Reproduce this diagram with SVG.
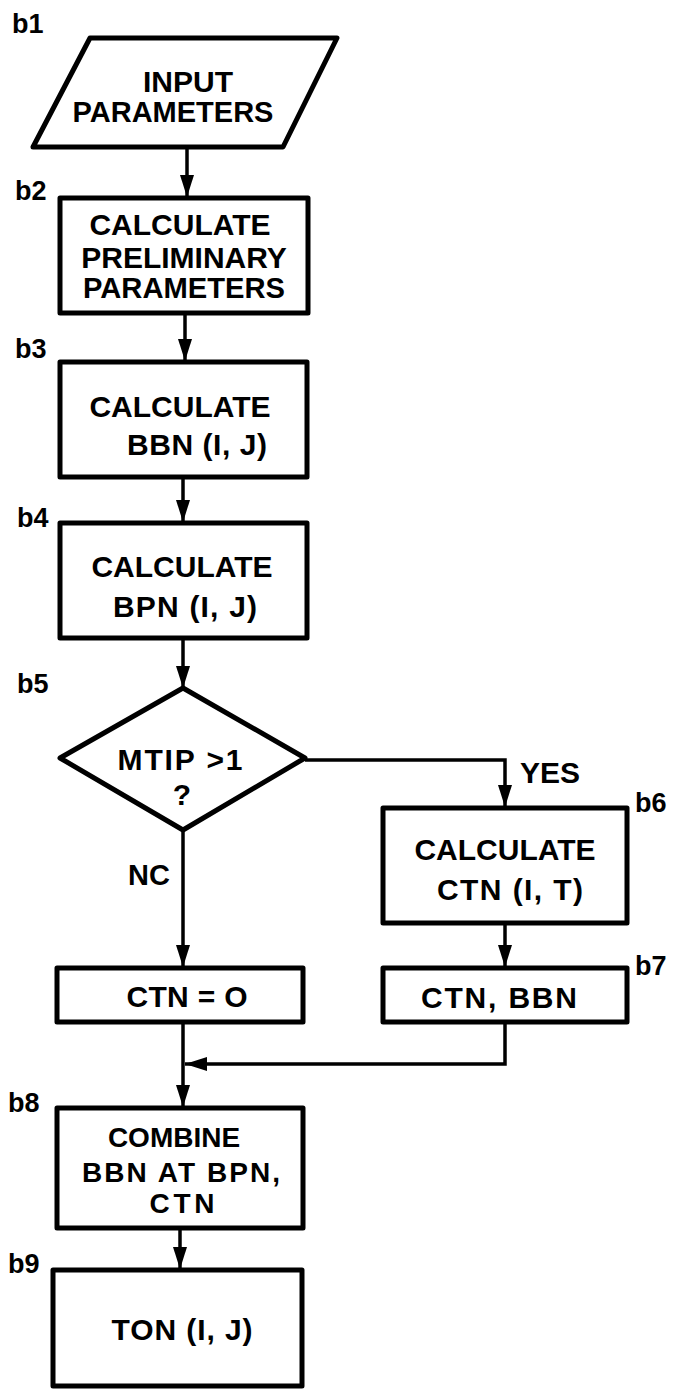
<svg xmlns="http://www.w3.org/2000/svg" width="677" height="1389" viewBox="0 0 677 1389">
<style>
.shape{fill:#fff;stroke:#000;stroke-width:5;stroke-linejoin:round}
.t{font-family:"Liberation Sans",Arial,sans-serif;font-weight:bold;font-size:30px;fill:#000;text-anchor:middle}
.s{font-size:28px}
.lbl{font-family:"Liberation Sans",Arial,sans-serif;font-weight:bold;font-size:27px;fill:#000}
.c{fill:none;stroke:#000;stroke-width:3.5}
</style>
<defs>
<marker id="ah" markerUnits="userSpaceOnUse" markerWidth="24" markerHeight="16" refX="22" refY="7" orient="auto">
<path d="M0,0 L22,7 L0,14 Z" fill="#000"/>
</marker>
</defs>
<rect width="677" height="1389" fill="#fff"/>
<g id="connectors">
<line class="c" x1="187" y1="147" x2="187" y2="197" marker-end="url(#ah)"/>
<line class="c" x1="185" y1="313" x2="185" y2="361" marker-end="url(#ah)"/>
<line class="c" x1="183" y1="477" x2="183" y2="522" marker-end="url(#ah)"/>
<line class="c" x1="183" y1="638" x2="183" y2="688" marker-end="url(#ah)"/>
<path class="c" d="M305,760 H505 V807" marker-end="url(#ah)"/>
<line class="c" x1="183" y1="830" x2="183" y2="967" marker-end="url(#ah)"/>
<line class="c" x1="505" y1="923" x2="505" y2="967" marker-end="url(#ah)"/>
<path class="c" d="M505,1022 V1064 H185" marker-end="url(#ah)"/>
<line class="c" x1="183" y1="1022" x2="183" y2="1107" marker-end="url(#ah)"/>
<line class="c" x1="180" y1="1228" x2="180" y2="1269" marker-end="url(#ah)"/>
<text class="t" x="149" y="885" style="font-size:29px">NC</text>
<text class="t" x="520" y="783" style="text-anchor:start">YES</text>
</g>
<g id="b1">
<polygon class="shape" points="90,38 337,38 283,147 33,147"/>
<text class="t" x="188" y="92">INPUT</text>
<text class="t" x="173" y="122" style="font-size:29px">PARAMETERS</text>
<text class="lbl" x="12" y="33">b1</text>
</g>
<g id="b2">
<rect class="shape" x="60" y="198" width="248" height="115"/>
<text class="t" x="180" y="235">CALCULATE</text>
<text class="t" x="184" y="268">PRELIMINARY</text>
<text class="t" x="184" y="298" textLength="202" lengthAdjust="spacingAndGlyphs">PARAMETERS</text>
<text class="lbl" x="15" y="200">b2</text>
</g>
<g id="b3">
<rect class="shape" x="60" y="362" width="247" height="115"/>
<text class="t" x="180" y="417">CALCULATE</text>
<text class="t" x="197" y="455" textLength="140" style="text-anchor:middle">BBN (I, J)</text>
<text class="lbl" x="15" y="358">b3</text>
</g>
<g id="b4">
<rect class="shape" x="60" y="523" width="247" height="115"/>
<text class="t" x="182" y="577">CALCULATE</text>
<text class="t" x="185" y="617" textLength="144">BPN (I, J)</text>
<text class="lbl" x="17" y="527">b4</text>
</g>
<g id="b5">
<polygon class="shape" points="183,688 305,758 183,830 60,758"/>
<text class="t" x="180" y="770" textLength="125">MTIP &gt;1</text>
<text class="t" x="182" y="805">?</text>
<text class="lbl" x="17" y="693">b5</text>
</g>
<g id="b6">
<rect class="shape" x="383" y="808" width="244" height="115"/>
<text class="t" x="505" y="860">CALCULATE</text>
<text class="t" x="510" y="900" textLength="146">CTN (I, T)</text>
<text class="lbl" x="635" y="812">b6</text>
</g>
<g id="ctn0">
<rect class="shape" x="57" y="968" width="246" height="54"/>
<text class="t" x="187" y="1007" textLength="121">CTN = O</text>
</g>
<g id="b7">
<rect class="shape" x="383" y="968" width="244" height="54"/>
<text class="t" x="499" y="1008" textLength="156">CTN, BBN</text>
<text class="lbl" x="635" y="975">b7</text>
</g>
<g id="b8">
<rect class="shape" x="57" y="1108" width="246" height="120"/>
<text class="t s" x="174" y="1147">COMBINE</text>
<text class="t s" x="181" y="1182" textLength="198">BBN AT BPN,</text>
<text class="t s" x="182" y="1213" textLength="65">CTN</text>
<text class="lbl" x="8" y="1112">b8</text>
</g>
<g id="b9">
<rect class="shape" x="53" y="1270" width="249" height="116"/>
<text class="t" x="182" y="1340" textLength="141">TON (I, J)</text>
<text class="lbl" x="8" y="1273">b9</text>
</g>
</svg>
